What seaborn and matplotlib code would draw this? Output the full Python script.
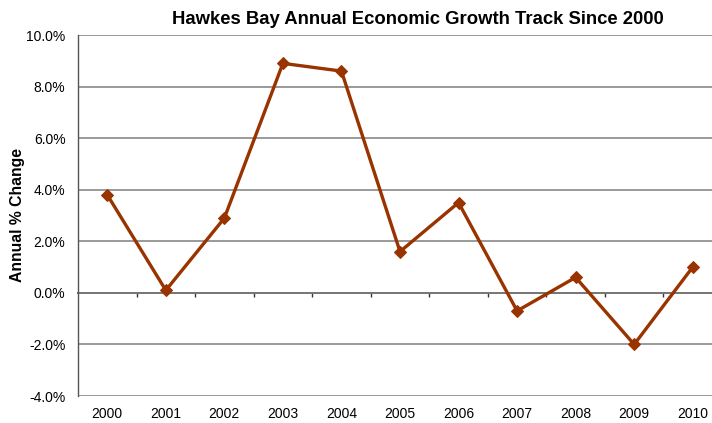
import matplotlib
matplotlib.use("Agg")
import matplotlib.pyplot as plt
import seaborn as sns
import pandas as pd
import numpy as np
from matplotlib.ticker import FuncFormatter

years = ["2000", "2001", "2002", "2003", "2004", "2005",
         "2006", "2007", "2008", "2009", "2010"]
growth = [3.8, 0.1, 2.9, 8.9, 8.6, 1.6, 3.5, -0.7, 0.6, -2.0, 1.0]
y_ticks = [-4, -2, 0, 2, 4, 6, 8, 10]

df = pd.DataFrame({"year": years, "growth": growth})

sns.set_style("white")
plt.rcParams["font.family"] = ["Liberation Sans", "DejaVu Sans"]
plt.rcParams["text.color"] = "black"

fig = plt.figure(figsize=(7.12, 4.23), dpi=100)
ax = fig.add_axes([78 / 712, 1 - 396 / 423, (722 - 78) / 712, (396 - 35) / 423])

line_color = "#993300"
sns.lineplot(data=df, x="year", y="growth", ax=ax, color=line_color,
             linewidth=2.4, marker="D", markersize=6.5,
             markeredgecolor=line_color, markerfacecolor=line_color, sort=False)

ax.set_xlim(-0.5, len(years) - 0.5)
ax.set_ylim(-4, 10)
ax.set_yticks(y_ticks)
ax.yaxis.set_major_formatter(FuncFormatter(lambda v, p: f"{v:.1f}%"))
ax.grid(axis="y", color="#7f7f7f", linewidth=1.1)
ax.grid(axis="x", visible=False)
ax.set_axisbelow(True)

for side in ["top", "right", "bottom"]:
    ax.spines[side].set_visible(False)
ax.spines["left"].set_color("#555555")
ax.spines["left"].set_linewidth(1.0)

ax.tick_params(axis="y", which="major", length=6, width=1, color="#555555",
               direction="out", labelsize=10, pad=3, labelcolor="black")
ax.tick_params(axis="x", length=0, labelsize=10, pad=8, labelcolor="black")
ax.set_xlabel("")
ax.set_ylabel("Annual % Change", fontsize=11.3, fontweight="bold", color="black")
ax.yaxis.set_label_coords(-0.083, 0.5)

# category axis crossing at zero, with ticks between categories
zero_frac = (0 - (-4)) / (10 - (-4))
sec = ax.secondary_xaxis(zero_frac)
sec.set_xticks(np.arange(0.5, len(years) - 0.5, 1.0))
sec.set_xticklabels([])
sec.tick_params(axis="x", length=3, width=1, color="#333333", direction="out")
sec.spines["bottom"].set_color("#555555")
sec.spines["bottom"].set_linewidth(1.3)

fig.text(418 / 712, 1 - 19 / 423, "Hawkes Bay Annual Economic Growth Track Since 2000",
         ha="center", va="center", fontsize=13.3, fontweight="bold", color="black")

fig.savefig("out.png", dpi=100)
